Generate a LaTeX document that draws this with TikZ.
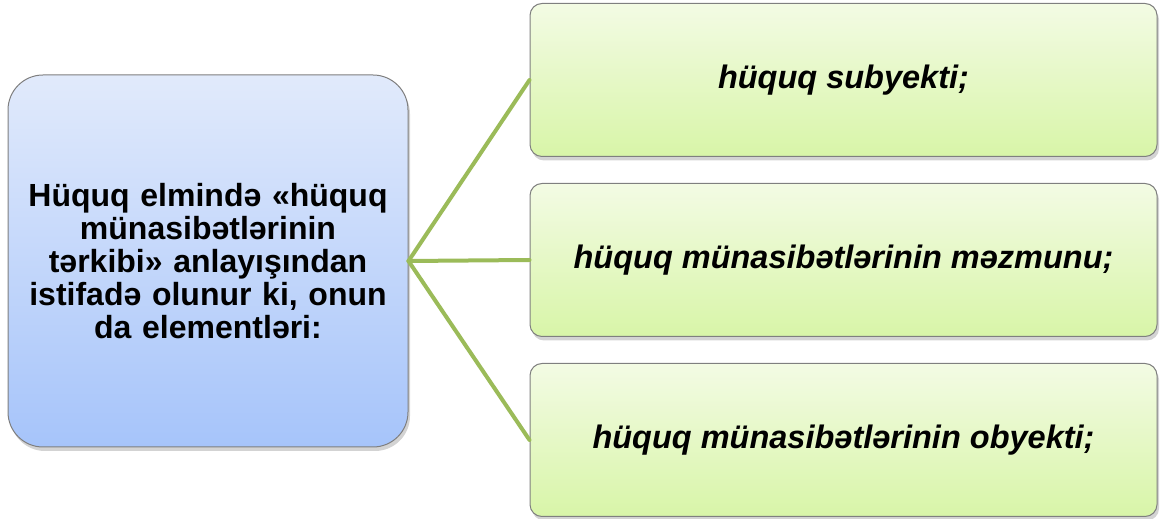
\documentclass[tikz,border=0pt]{standalone}
\usepackage{fontspec}
\setmainfont{Liberation Sans}
\usetikzlibrary{positioning}
\usetikzlibrary{shadows}
\definecolor{xettyasil}{HTML}{9BBB59}
\definecolor{goyust}{HTML}{E1EAFB}
\definecolor{goyalt}{HTML}{A6C4FA}
\definecolor{yasust}{HTML}{F3FBE4}
\definecolor{yasalt}{HTML}{D8F5A8}
\definecolor{kenar}{HTML}{7F7F7F}

\begin{document}
\begin{tikzpicture}[line cap=round,line join=round,x=1pt,y=1pt,
  esas/.style={draw=kenar,line width=1pt,rounded corners=35pt,
    top color=goyust,bottom color=goyalt,
    drop shadow={opacity=0.35,shadow xshift=2pt,shadow yshift=-4pt},
    minimum width=400pt,minimum height=372pt,text width=390pt,align=center,
    font=\bfseries\fontsize{32}{33}\selectfont},
  unsur/.style={draw=kenar,line width=1pt,rounded corners=12pt,
    top color=yasust,bottom color=yasalt,
    drop shadow={opacity=0.35,shadow xshift=2pt,shadow yshift=-4pt},
    minimum width=627pt,minimum height=153pt,align=center,
    font=\bfseries\itshape\fontsize{32.5}{36}\selectfont},
  xett/.style={color=xettyasil,line width=4pt}]
\useasboundingbox (0,0) rectangle (1162,519);

%sol qutu
\node[esas] (terkib) at (208,258) {Hüquq elmində «hüquq\\münasibətlərinin\\tərkibi» anlayışından\\istifadə olunur ki, onun\\da elementləri:};

%sag qutular
\node[unsur] (mezmun) at (843.5,259) {hüquq münasibətlərinin məzmunu;};
\node[unsur,above=26pt of mezmun] (subyekt) {hüquq subyekti;};
\node[unsur,below=26pt of mezmun] (obyekt) {hüquq münasibətlərinin obyekti;};

%xettler
\draw[xett] (terkib.east) -- (subyekt.west);
\draw[xett] (terkib.east) -- (mezmun.west);
\draw[xett] (terkib.east) -- (obyekt.west);
\end{tikzpicture}
\end{document}
